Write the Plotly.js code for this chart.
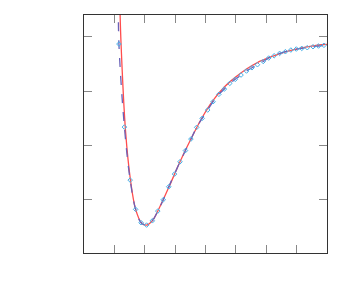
<!DOCTYPE html>
<html>
<head>
<meta charset="utf-8">
<script src="https://cdn.plot.ly/plotly-3.0.1.min.js"></script>
<style>html,body{margin:0;padding:0;background:#fff;}#chart{width:349px;height:300px;}</style>
</head>
<body>
<div id="chart"></div>
<script>
// Marker (sampled) data
const markerX = [1.15, 1.33, 1.52, 1.70, 1.88, 2.06, 2.25, 2.43, 2.61, 2.79, 2.98, 3.16, 3.34, 3.52, 3.71, 3.89, 4.07, 4.25, 4.44, 4.62, 4.80, 4.98, 5.17, 5.35, 5.53, 5.71, 5.90, 6.08, 6.26, 6.44, 6.63, 6.81, 6.99, 7.17, 7.35, 7.54, 7.72, 7.90];
const markerY = [-0.134, -1.662, -2.638, -3.177, -3.423, -3.466, -3.387, -3.208, -3.000, -2.761, -2.527, -2.301, -2.095, -1.883, -1.668, -1.502, -1.349, -1.196, -1.060, -0.963, -0.858, -0.784, -0.705, -0.631, -0.571, -0.515, -0.456, -0.392, -0.350, -0.306, -0.276, -0.245, -0.226, -0.214, -0.202, -0.184, -0.171, -0.158];

// Dashed fit curve
const fitX = [1.13, 1.15, 1.33, 1.52, 1.70, 1.88, 2.06, 2.25, 2.43, 2.61, 2.79, 2.98, 3.16, 3.34, 3.52, 3.71, 3.89, 4.07, 4.25, 4.44, 4.62, 4.80, 4.98, 5.17, 5.35, 5.53, 5.71, 5.90, 6.08, 6.26, 6.44, 6.63, 6.81, 6.99, 7.17, 7.35, 7.54, 7.72, 7.90, 8.00];
const fitY = [0.60, -0.134, -1.662, -2.638, -3.177, -3.423, -3.466, -3.387, -3.208, -3.000, -2.761, -2.527, -2.301, -2.095, -1.883, -1.668, -1.502, -1.349, -1.196, -1.060, -0.963, -0.858, -0.784, -0.705, -0.631, -0.571, -0.515, -0.456, -0.392, -0.350, -0.306, -0.276, -0.245, -0.226, -0.214, -0.202, -0.184, -0.171, -0.158, -0.152];

// Red model curve
const modelX = [1.18, 1.22, 1.37, 1.53, 1.70, 1.89, 2.06, 2.25, 2.43, 2.80, 3.16, 3.52, 3.89, 4.25, 4.62, 4.98, 5.35, 5.71, 6.08, 6.44, 6.81, 7.17, 7.54, 7.90, 8.00];
const modelY = [0.60, -0.134, -1.754, -2.638, -3.177, -3.423, -3.466, -3.387, -3.208, -2.761, -2.301, -1.883, -1.486, -1.171, -0.926, -0.748, -0.594, -0.475, -0.386, -0.314, -0.252, -0.204, -0.168, -0.143, -0.140];

const xTicks = [1, 2, 3, 4, 5, 6, 7];
const yTicks = [-3, -2, -1, 0];

const traces = [
  {
    x: modelX, y: modelY, mode: 'lines', line: {color: '#ff4d4d', width: 1.3, shape: 'spline'},
    hoverinfo: 'skip', showlegend: false
  },
  {
    x: fitX, y: fitY, mode: 'lines', line: {color: '#6a62b8', width: 1.3, dash: 'dash', shape: 'spline'},
    hoverinfo: 'skip', showlegend: false
  },
  {
    x: markerX, y: markerY, mode: 'markers',
    marker: {symbol: 'diamond-open', size: 3.5, color: '#45b0e8', line: {width: 1, color: '#45b0e8'}},
    hoverinfo: 'skip', showlegend: false
  }
];

const axisCommon = {
  showgrid: false, zeroline: false, showline: true, linecolor: '#333', linewidth: 1,
  mirror: 'allticks', ticks: 'inside', ticklen: 8, tickwidth: 1, tickcolor: '#888',
  showticklabels: false
};

const layout = {
  width: 349, height: 300,
  margin: {l: 84, r: 22, t: 15, b: 47, pad: 0},
  paper_bgcolor: '#fff', plot_bgcolor: '#fff',
  xaxis: Object.assign({}, axisCommon, {range: [0, 8], tickmode: 'array', tickvals: xTicks}),
  yaxis: Object.assign({}, axisCommon, {range: [-3.98, 0.40], tickmode: 'array', tickvals: yTicks}),
  showlegend: false
};

Plotly.newPlot('chart', traces, layout, {staticPlot: true, displayModeBar: false});
</script>
</body>
</html>
